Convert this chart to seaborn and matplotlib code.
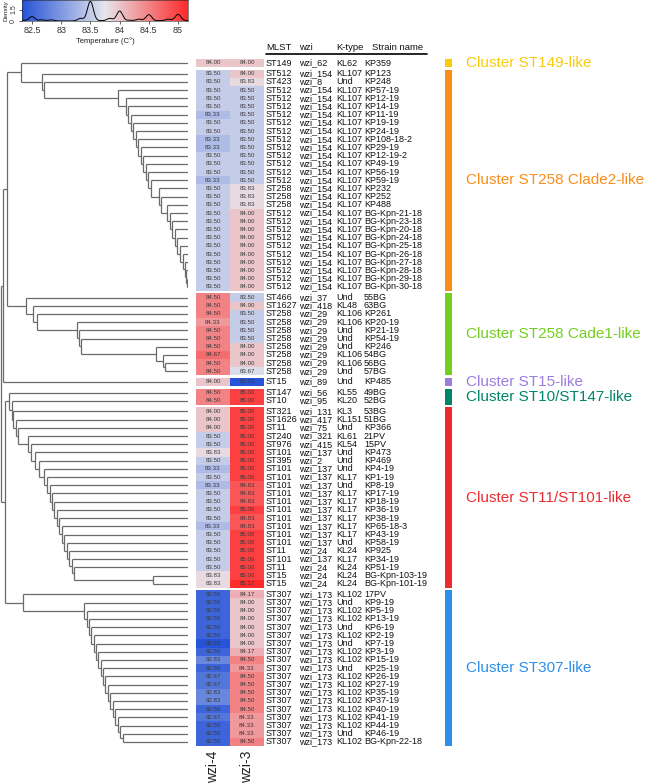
import numpy as np
import pandas as pd
import matplotlib
matplotlib.use('Agg')
import matplotlib.pyplot as plt
import seaborn as sns
from matplotlib.colors import LinearSegmentedColormap
from matplotlib.patches import Rectangle

# 数据准备
clusters = ['Cluster ST149-like', 'Cluster ST258 Clade2-like', 'Cluster ST258 Cade1-like',
            'Cluster ST15-like', 'Cluster ST10/ST147-like', 'Cluster ST11/ST101-like',
            'Cluster ST307-like']
cluster_sizes = [1, 27, 10, 1, 2, 22, 19]
cluster_colors = ['#F8CC0C', '#FB8D1A', '#74CE20', '#9C7CDE', '#00856A', '#EC2B2E', '#2D8FEA']

wzi4 = [84.00,
        83.50, 83.50, 83.50, 83.50, 83.50, 83.33, 83.50, 83.50, 83.33, 83.33, 83.50, 83.50, 83.50,
        83.33, 83.50, 83.50, 83.50, 83.50, 83.50, 83.50, 83.50, 83.50, 83.50, 83.50, 83.50, 83.50,
        83.50,
        84.50, 84.50, 84.50, 84.33, 84.50, 84.50, 84.50, 84.67, 84.50, 84.50,
        84.00,
        84.50, 84.50,
        84.00, 84.00, 84.00, 83.50, 83.50, 83.83, 83.50, 83.33, 83.50, 83.33, 83.50, 83.50, 83.50,
        83.50, 83.33, 83.50, 83.50, 83.50, 83.50, 83.50, 83.83, 83.83,
        82.50, 82.50, 82.50, 82.50, 82.50, 82.50, 82.33, 82.50, 82.83, 82.50, 82.67, 82.67, 82.83,
        82.83, 82.50, 82.67, 82.50, 82.50, 82.50]
wzi3 = [84.00,
        84.00, 83.83, 83.50, 83.50, 83.50, 83.50, 83.50, 83.50, 83.50, 83.50, 83.50, 83.50, 83.50,
        83.50, 83.83, 83.83, 83.83, 84.00, 84.00, 84.00, 84.00, 84.00, 84.00, 84.00, 84.00, 84.00,
        84.00,
        83.50, 84.00, 83.50, 83.50, 83.50, 83.50, 84.00, 84.00, 84.00, 83.67,
        82.33,
        85.00, 85.00,
        85.00, 85.00, 85.00, 85.00, 85.00, 85.00, 85.00, 85.00, 85.00, 84.83, 84.83, 84.83, 85.00,
        84.83, 84.83, 85.00, 85.00, 85.00, 85.00, 85.00, 85.00, 85.17,
        84.17, 84.00, 84.00, 84.00, 84.00, 84.00, 84.00, 84.17, 84.50, 84.33, 84.50, 84.50, 84.50,
        84.50, 84.50, 84.33, 84.33, 84.33, 84.50]

mlst = (['ST149', 'ST512', 'ST423'] + ['ST512'] * 12 + ['ST258'] * 3 + ['ST512'] * 10
        + ['ST466', 'ST1627'] + ['ST258'] * 8
        + ['ST15', 'ST147', 'ST10']
        + ['ST321', 'ST1626', 'ST11', 'ST240', 'ST976', 'ST101', 'ST395'] + ['ST101'] * 10
        + ['ST11', 'ST101', 'ST11', 'ST15', 'ST15']
        + ['ST307'] * 19)
wzi = (['wzi_62', 'wzi_154', 'wzi_8'] + ['wzi_154'] * 25
       + ['wzi_37', 'wzi_418'] + ['wzi_29'] * 8
       + ['wzi_89', 'wzi_56', 'wzi_95']
       + ['wzi_131', 'wzi_417', 'wzi_75', 'wzi_321', 'wzi_415', 'wzi_137', 'wzi_2'] + ['wzi_137'] * 10
       + ['wzi_24', 'wzi_137', 'wzi_24', 'wzi_24', 'wzi_24']
       + ['wzi_173'] * 19)
ktype = (['KL62', 'KL107', 'Und'] + ['KL107'] * 25
         + ['Und', 'KL48', 'KL106', 'KL106', 'Und', 'Und', 'Und', 'KL106', 'KL106', 'Und']
         + ['Und', 'KL55', 'KL20']
         + ['KL3', 'KL151', 'Und', 'KL61', 'KL54', 'Und', 'Und', 'Und', 'KL17', 'Und', 'KL17',
            'KL17', 'KL17', 'KL17', 'KL17', 'KL17', 'Und', 'KL24', 'KL17', 'KL24', 'KL24', 'KL24']
         + ['KL102', 'Und', 'KL102', 'KL102', 'Und', 'KL102', 'Und', 'KL102', 'KL102', 'Und',
            'KL102', 'KL102', 'KL102', 'KL102', 'KL102', 'KL102', 'KL102', 'Und', 'KL102'])
strain = (['KP359', 'KP123', 'KP248', 'KP57-19', 'KP12-19', 'KP14-19', 'KP11-19', 'KP19-19',
           'KP24-19', 'KP108-18-2', 'KP29-19', 'KP12-19-2', 'KP49-19', 'KP56-19', 'KP59-19',
           'KP232', 'KP252', 'KP488', 'BG-Kpn-21-18', 'BG-Kpn-23-18', 'BG-Kpn-20-18',
           'BG-Kpn-24-18', 'BG-Kpn-25-18', 'BG-Kpn-26-18', 'BG-Kpn-27-18', 'BG-Kpn-28-18',
           'BG-Kpn-29-18', 'BG-Kpn-30-18']
          + ['55BG', '63BG', 'KP261', 'KP20-19', 'KP21-19', 'KP54-19', 'KP246', '54BG', '56BG', '57BG']
          + ['KP485', '49BG', '52BG']
          + ['53BG', '51BG', 'KP366', '21PV', '15PV', 'KP473', 'KP469', 'KP4-19', 'KP1-19', 'KP8-19',
             'KP17-19', 'KP18-19', 'KP36-19', 'KP38-19', 'KP65-18-3', 'KP43-19', 'KP58-19', 'KP925',
             'KP34-19', 'KP51-19', 'BG-Kpn-103-19', 'BG-Kpn-101-19']
          + ['17PV', 'KP9-19', 'KP5-19', 'KP13-19', 'KP6-19', 'KP2-19', 'KP7-19', 'KP3-19', 'KP15-19',
             'KP25-19', 'KP26-19', 'KP27-19', 'KP35-19', 'KP37-19', 'KP40-19', 'KP41-19', 'KP44-19',
             'KP46-19', 'BG-Kpn-22-18'])

# 树的合并距离 (梯状子树, 从上到下)
hA = [167, 146, 144, 70, 62, 60, 57, 55, 52, 50, 47, 45, 42, 40, 37, 29, 27, 21, 18, 16, 13, 11,
      8, 5, 3, 2, 1]
hB = [162, 155, 151, 111, 109, 107, 32, 25, 23]
hD = [179, 176.5, 175, 172.5, 170, 160, 157.5, 153, 149, 144, 141, 138.5, 136, 134, 131.5, 129,
      126.5, 124, 121.5, 119, 116.5, 114, 35]
hE = [165, 104, 101.5, 99, 97, 94.5, 92, 90, 87.5, 85, 83, 80.5, 78, 75.5, 73, 70.5, 68, 65]
h_AB, h_ABC, h_DE, h_root = 181, 185, 183, 187

sns.set_theme(style='white')
plt.rcParams['font.family'] = ['Liberation Sans', 'DejaVu Sans']

W, H = 658, 783
fig = plt.figure(figsize=(W / 100, H / 100), dpi=100)

# 行位置 (簇之间留空)
gap = 0.3
cl_idx = np.repeat(np.arange(len(cluster_sizes)), cluster_sizes)
ypos = np.arange(len(wzi4)) + gap * cl_idx
unit = 8.2
top_px = 63 - unit / 2
ylim = (ypos[-1] + 0.5, -0.5)
span = ylim[0] - ylim[1]
ax_bottom = 1 - (top_px + span * unit) / H
ax_height = span * unit / H

line_kw = dict(color='#6a6a6a', lw=0.9, solid_capstyle='butt')

# 树
dax = fig.add_axes([0, ax_bottom, 188 / W, ax_height])
dax.set_xlim(188, 0)
dax.set_ylim(*ylim)
dax.axis('off')


def merge(a, b, h):
    (ya, da), (yb, db) = a, b
    dax.plot([da, h], [ya, ya], **line_kw)
    dax.plot([db, h], [yb, yb], **line_kw)
    dax.plot([h, h], [ya, yb], **line_kw)
    return ((ya + yb) / 2, h)


def caterpillar(leaves, heights):
    node = (ypos[leaves[-1]], 0)
    for k in range(len(leaves) - 2, -1, -1):
        node = merge((ypos[leaves[k]], 0), node, heights[k])
    return node


starts = np.cumsum([0] + cluster_sizes)
A = caterpillar(list(range(0, 28)), hA)
B = caterpillar(list(range(28, 38)), hB)
ABC = merge(merge(A, B, h_AB), (ypos[38], 0), h_ABC)
D = caterpillar(list(range(39, 63)), hD)
E = caterpillar(list(range(63, 82)), hE)
merge(ABC, merge(D, E, h_DE), h_root)

# 热力图
vmin, vmax = min(wzi4 + wzi3), max(wzi4 + wzi3)
cmap = LinearSegmentedColormap.from_list('bwr2', ['#2653D8', '#E6E6EC', '#FF2A2A'])
df = pd.DataFrame({'wzi-4': wzi4, 'wzi-3': wzi3})
for c in range(len(cluster_sizes)):
    s, e = starts[c], starts[c + 1] - 1
    b = 1 - (top_px + (ypos[e] + 0.5 - ylim[1]) * unit) / H
    hx = fig.add_axes([196 / W, b, 68 / W, cluster_sizes[c] * unit / H])
    last = c == len(cluster_sizes) - 1
    sns.heatmap(df.iloc[s:e + 1], ax=hx, cmap=cmap, vmin=vmin, vmax=vmax, cbar=False,
                annot=True, fmt='.2f', annot_kws={'size': 4.4, 'color': '#3a3a3a'},
                xticklabels=last, yticklabels=False)
    hx.tick_params(length=0)
    if last:
        hx.set_xticklabels(hx.get_xticklabels(), rotation=90, fontsize=10, color='#222222')

# 表格文字
tax = fig.add_axes([0, ax_bottom, 1, ax_height])
tax.set_xlim(0, W)
tax.set_ylim(*ylim)
tax.axis('off')
tax.patch.set_alpha(0)
cols = [(266, mlst), (299, wzi), (336, ktype), (364, strain)]
for x, vals in cols:
    for y, v in zip(ypos, vals):
        tax.text(x, y, v, fontsize=6.5, va='center', ha='left', color='#111111')
for x, lab in [(266, 'MLST'), (299, 'wzi'), (336, 'K-type'), (372, 'Strain name')]:
    tax.text(x, -1.85, lab, fontsize=6.8, va='center', ha='left', color='#111111', clip_on=False)
tax.plot([266, 427], [-1.1, -1.1], color='black', lw=1.2, clip_on=False)

for c in range(len(cluster_sizes)):
    s, e = starts[c], starts[c + 1] - 1
    tax.add_patch(Rectangle((445, ypos[s] - 0.5), 7, ypos[e] - ypos[s] + 1,
                            color=cluster_colors[c], lw=0))
    tax.text(466, (ypos[s] + ypos[e]) / 2, clusters[c], fontsize=11, color=cluster_colors[c],
             va='center', ha='left')

# 色条 + 密度曲线
cax = fig.add_axes([22 / W, 1 - 21 / H, 166 / W, 21 / H])
all_vals = np.array(wzi4 + wzi3)
ytop = 2.75
cax.imshow(np.linspace(vmin, vmax, 256)[None, :], cmap=cmap, aspect='auto',
           extent=[vmin, vmax, 0, ytop], vmin=vmin, vmax=vmax)
sns.kdeplot(x=all_vals, ax=cax, color='black', lw=0.7, bw_method=0.05 / all_vals.std(ddof=1))
cax.set_xlim(vmin, vmax)
cax.set_ylim(0, ytop)
cax.set_xticks([82.5, 83, 83.5, 84, 84.5, 85])
cax.set_xticklabels(['82.5', '83', '83.5', '84', '84.5', '85'], fontsize=6.5, color='#333333')
cax.set_yticks([0, 1.5])
cax.set_yticklabels(['0', '1.5'], fontsize=5, rotation=90, va='center', color='#333333')
cax.tick_params(length=2, width=0.5, pad=1.5, left=True, bottom=True)
cax.set_xlabel('Temperature (C°)', fontsize=5.5, labelpad=2, color='#222222')
cax.set_ylabel('Density', fontsize=4.5, labelpad=1, color='#222222')
for sp in cax.spines.values():
    sp.set_linewidth(0.4)

fig.savefig('out.png', dpi=100)
